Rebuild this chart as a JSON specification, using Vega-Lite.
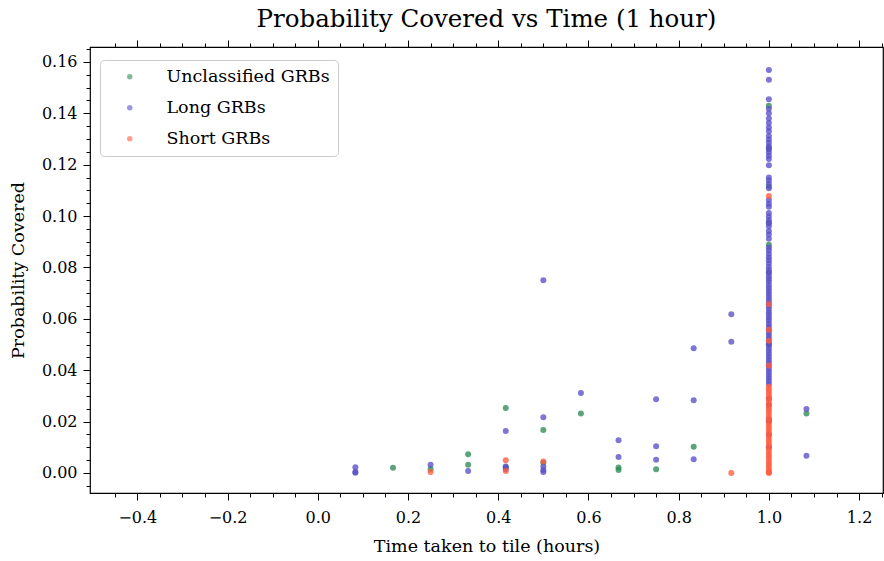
{
  "$schema": "https://vega.github.io/schema/vega-lite/v6.json",
  "width": 793,
  "height": 446,
  "autosize": "none",
  "padding": {"left": 90, "top": 47, "right": 1, "bottom": 68},
  "background": "white",
  "config": {
    "font": "DejaVu Serif",
    "view": {"stroke": "black", "strokeWidth": 1.2},
    "axis": {"grid": false, "domain": false, "tickColor": "black", "labelColor": "black", "titleColor": "black", "labelFont": "DejaVu Serif", "titleFont": "DejaVu Serif", "titleFontWeight": "normal"}
  },
  "title": {"text": "Probability Covered vs Time (1 hour)", "fontSize": 24.5, "fontWeight": "normal", "font": "DejaVu Serif", "color": "black", "offset": 7},
  "data": {"values": [
    {"t": 0.1667, "p": 0.0020, "type": "Unclassified GRBs"},
    {"t": 0.25, "p": 0.0015, "type": "Unclassified GRBs"},
    {"t": 0.3333, "p": 0.0073, "type": "Unclassified GRBs"},
    {"t": 0.3333, "p": 0.0032, "type": "Unclassified GRBs"},
    {"t": 0.4167, "p": 0.0253, "type": "Unclassified GRBs"},
    {"t": 0.4167, "p": 0.0022, "type": "Unclassified GRBs"},
    {"t": 0.5, "p": 0.0167, "type": "Unclassified GRBs"},
    {"t": 0.5, "p": 0.0040, "type": "Unclassified GRBs"},
    {"t": 0.5833, "p": 0.0231, "type": "Unclassified GRBs"},
    {"t": 0.6667, "p": 0.0021, "type": "Unclassified GRBs"},
    {"t": 0.6667, "p": 0.0012, "type": "Unclassified GRBs"},
    {"t": 0.75, "p": 0.0014, "type": "Unclassified GRBs"},
    {"t": 0.8333, "p": 0.0102, "type": "Unclassified GRBs"},
    {"t": 1.0833, "p": 0.0231, "type": "Unclassified GRBs"},
    {"t": 1.0, "p": 0.1429, "type": "Unclassified GRBs"},
    {"t": 1.0, "p": 0.1265, "type": "Unclassified GRBs"},
    {"t": 1.0, "p": 0.1115, "type": "Unclassified GRBs"},
    {"t": 1.0, "p": 0.0975, "type": "Unclassified GRBs"},
    {"t": 1.0, "p": 0.0888, "type": "Unclassified GRBs"},
    {"t": 1.0, "p": 0.0780, "type": "Unclassified GRBs"},
    {"t": 1.0, "p": 0.0500, "type": "Unclassified GRBs"},
    {"t": 1.0, "p": 0.0200, "type": "Unclassified GRBs"},
    {"t": 0.0833, "p": 0.0022, "type": "Long GRBs"},
    {"t": 0.0833, "p": 0.0004, "type": "Long GRBs"},
    {"t": 0.0833, "p": 0.0001, "type": "Long GRBs"},
    {"t": 0.25, "p": 0.0032, "type": "Long GRBs"},
    {"t": 0.3333, "p": 0.0008, "type": "Long GRBs"},
    {"t": 0.4167, "p": 0.0163, "type": "Long GRBs"},
    {"t": 0.4167, "p": 0.0025, "type": "Long GRBs"},
    {"t": 0.4167, "p": 0.0015, "type": "Long GRBs"},
    {"t": 0.5, "p": 0.0750, "type": "Long GRBs"},
    {"t": 0.5, "p": 0.0217, "type": "Long GRBs"},
    {"t": 0.5, "p": 0.0025, "type": "Long GRBs"},
    {"t": 0.5, "p": 0.0012, "type": "Long GRBs"},
    {"t": 0.5, "p": 0.0004, "type": "Long GRBs"},
    {"t": 0.5833, "p": 0.0311, "type": "Long GRBs"},
    {"t": 0.6667, "p": 0.0127, "type": "Long GRBs"},
    {"t": 0.6667, "p": 0.0062, "type": "Long GRBs"},
    {"t": 0.75, "p": 0.0287, "type": "Long GRBs"},
    {"t": 0.75, "p": 0.0104, "type": "Long GRBs"},
    {"t": 0.75, "p": 0.0051, "type": "Long GRBs"},
    {"t": 0.8333, "p": 0.0485, "type": "Long GRBs"},
    {"t": 0.8333, "p": 0.0283, "type": "Long GRBs"},
    {"t": 0.8333, "p": 0.0053, "type": "Long GRBs"},
    {"t": 0.9167, "p": 0.0618, "type": "Long GRBs"},
    {"t": 0.9167, "p": 0.0511, "type": "Long GRBs"},
    {"t": 1.0833, "p": 0.0249, "type": "Long GRBs"},
    {"t": 1.0833, "p": 0.0067, "type": "Long GRBs"},
    {"t": 1.0, "p": 0.1568, "type": "Long GRBs"},
    {"t": 1.0, "p": 0.1531, "type": "Long GRBs"},
    {"t": 1.0, "p": 0.1455, "type": "Long GRBs"},
    {"t": 1.0, "p": 0.1418, "type": "Long GRBs"},
    {"t": 1.0, "p": 0.1400, "type": "Long GRBs"},
    {"t": 1.0, "p": 0.1380, "type": "Long GRBs"},
    {"t": 1.0, "p": 0.1362, "type": "Long GRBs"},
    {"t": 1.0, "p": 0.1345, "type": "Long GRBs"},
    {"t": 1.0, "p": 0.1330, "type": "Long GRBs"},
    {"t": 1.0, "p": 0.1312, "type": "Long GRBs"},
    {"t": 1.0, "p": 0.1298, "type": "Long GRBs"},
    {"t": 1.0, "p": 0.1285, "type": "Long GRBs"},
    {"t": 1.0, "p": 0.1272, "type": "Long GRBs"},
    {"t": 1.0, "p": 0.1260, "type": "Long GRBs"},
    {"t": 1.0, "p": 0.1248, "type": "Long GRBs"},
    {"t": 1.0, "p": 0.1235, "type": "Long GRBs"},
    {"t": 1.0, "p": 0.1222, "type": "Long GRBs"},
    {"t": 1.0, "p": 0.1198, "type": "Long GRBs"},
    {"t": 1.0, "p": 0.1150, "type": "Long GRBs"},
    {"t": 1.0, "p": 0.1138, "type": "Long GRBs"},
    {"t": 1.0, "p": 0.1125, "type": "Long GRBs"},
    {"t": 1.0, "p": 0.1108, "type": "Long GRBs"},
    {"t": 1.0, "p": 0.1062, "type": "Long GRBs"},
    {"t": 1.0, "p": 0.1048, "type": "Long GRBs"},
    {"t": 1.0, "p": 0.1036, "type": "Long GRBs"},
    {"t": 1.0, "p": 0.1012, "type": "Long GRBs"},
    {"t": 1.0, "p": 0.0998, "type": "Long GRBs"},
    {"t": 1.0, "p": 0.0985, "type": "Long GRBs"},
    {"t": 1.0, "p": 0.0972, "type": "Long GRBs"},
    {"t": 1.0, "p": 0.0960, "type": "Long GRBs"},
    {"t": 1.0, "p": 0.0942, "type": "Long GRBs"},
    {"t": 1.0, "p": 0.0928, "type": "Long GRBs"},
    {"t": 1.0, "p": 0.0912, "type": "Long GRBs"},
    {"t": 1.0, "p": 0.0878, "type": "Long GRBs"},
    {"t": 1.0, "p": 0.0866, "type": "Long GRBs"},
    {"t": 1.0, "p": 0.0852, "type": "Long GRBs"},
    {"t": 1.0, "p": 0.0840, "type": "Long GRBs"},
    {"t": 1.0, "p": 0.0828, "type": "Long GRBs"},
    {"t": 1.0, "p": 0.0815, "type": "Long GRBs"},
    {"t": 1.0, "p": 0.0802, "type": "Long GRBs"},
    {"t": 1.0, "p": 0.0790, "type": "Long GRBs"},
    {"t": 1.0, "p": 0.0778, "type": "Long GRBs"},
    {"t": 1.0, "p": 0.0766, "type": "Long GRBs"},
    {"t": 1.0, "p": 0.0755, "type": "Long GRBs"},
    {"t": 1.0, "p": 0.0744, "type": "Long GRBs"},
    {"t": 1.0, "p": 0.0732, "type": "Long GRBs"},
    {"t": 1.0, "p": 0.0720, "type": "Long GRBs"},
    {"t": 1.0, "p": 0.0708, "type": "Long GRBs"},
    {"t": 1.0, "p": 0.0697, "type": "Long GRBs"},
    {"t": 1.0, "p": 0.0685, "type": "Long GRBs"},
    {"t": 1.0, "p": 0.0673, "type": "Long GRBs"},
    {"t": 1.0, "p": 0.0662, "type": "Long GRBs"},
    {"t": 1.0, "p": 0.0650, "type": "Long GRBs"},
    {"t": 1.0, "p": 0.0638, "type": "Long GRBs"},
    {"t": 1.0, "p": 0.0626, "type": "Long GRBs"},
    {"t": 1.0, "p": 0.0615, "type": "Long GRBs"},
    {"t": 1.0, "p": 0.0603, "type": "Long GRBs"},
    {"t": 1.0, "p": 0.0592, "type": "Long GRBs"},
    {"t": 1.0, "p": 0.0580, "type": "Long GRBs"},
    {"t": 1.0, "p": 0.0568, "type": "Long GRBs"},
    {"t": 1.0, "p": 0.0556, "type": "Long GRBs"},
    {"t": 1.0, "p": 0.0545, "type": "Long GRBs"},
    {"t": 1.0, "p": 0.0533, "type": "Long GRBs"},
    {"t": 1.0, "p": 0.0521, "type": "Long GRBs"},
    {"t": 1.0, "p": 0.0510, "type": "Long GRBs"},
    {"t": 1.0, "p": 0.0498, "type": "Long GRBs"},
    {"t": 1.0, "p": 0.0486, "type": "Long GRBs"},
    {"t": 1.0, "p": 0.0475, "type": "Long GRBs"},
    {"t": 1.0, "p": 0.0463, "type": "Long GRBs"},
    {"t": 1.0, "p": 0.0451, "type": "Long GRBs"},
    {"t": 1.0, "p": 0.0440, "type": "Long GRBs"},
    {"t": 1.0, "p": 0.0428, "type": "Long GRBs"},
    {"t": 1.0, "p": 0.0416, "type": "Long GRBs"},
    {"t": 1.0, "p": 0.0405, "type": "Long GRBs"},
    {"t": 1.0, "p": 0.0393, "type": "Long GRBs"},
    {"t": 1.0, "p": 0.0381, "type": "Long GRBs"},
    {"t": 1.0, "p": 0.0370, "type": "Long GRBs"},
    {"t": 1.0, "p": 0.0358, "type": "Long GRBs"},
    {"t": 1.0, "p": 0.0346, "type": "Long GRBs"},
    {"t": 1.0, "p": 0.0290, "type": "Long GRBs"},
    {"t": 1.0, "p": 0.0265, "type": "Long GRBs"},
    {"t": 1.0, "p": 0.0206, "type": "Long GRBs"},
    {"t": 1.0, "p": 0.0150, "type": "Long GRBs"},
    {"t": 1.0, "p": 0.0100, "type": "Long GRBs"},
    {"t": 0.25, "p": 0.0004, "type": "Short GRBs"},
    {"t": 0.4167, "p": 0.0049, "type": "Short GRBs"},
    {"t": 0.4167, "p": 0.0008, "type": "Short GRBs"},
    {"t": 0.5, "p": 0.0045, "type": "Short GRBs"},
    {"t": 0.9167, "p": 0.0000, "type": "Short GRBs"},
    {"t": 1.0, "p": 0.1078, "type": "Short GRBs"},
    {"t": 1.0, "p": 0.0657, "type": "Short GRBs"},
    {"t": 1.0, "p": 0.0557, "type": "Short GRBs"},
    {"t": 1.0, "p": 0.0515, "type": "Short GRBs"},
    {"t": 1.0, "p": 0.0418, "type": "Short GRBs"},
    {"t": 1.0, "p": 0.0336, "type": "Short GRBs"},
    {"t": 1.0, "p": 0.0325, "type": "Short GRBs"},
    {"t": 1.0, "p": 0.0314, "type": "Short GRBs"},
    {"t": 1.0, "p": 0.0302, "type": "Short GRBs"},
    {"t": 1.0, "p": 0.0291, "type": "Short GRBs"},
    {"t": 1.0, "p": 0.0280, "type": "Short GRBs"},
    {"t": 1.0, "p": 0.0268, "type": "Short GRBs"},
    {"t": 1.0, "p": 0.0257, "type": "Short GRBs"},
    {"t": 1.0, "p": 0.0246, "type": "Short GRBs"},
    {"t": 1.0, "p": 0.0235, "type": "Short GRBs"},
    {"t": 1.0, "p": 0.0223, "type": "Short GRBs"},
    {"t": 1.0, "p": 0.0212, "type": "Short GRBs"},
    {"t": 1.0, "p": 0.0201, "type": "Short GRBs"},
    {"t": 1.0, "p": 0.0190, "type": "Short GRBs"},
    {"t": 1.0, "p": 0.0178, "type": "Short GRBs"},
    {"t": 1.0, "p": 0.0167, "type": "Short GRBs"},
    {"t": 1.0, "p": 0.0156, "type": "Short GRBs"},
    {"t": 1.0, "p": 0.0145, "type": "Short GRBs"},
    {"t": 1.0, "p": 0.0133, "type": "Short GRBs"},
    {"t": 1.0, "p": 0.0122, "type": "Short GRBs"},
    {"t": 1.0, "p": 0.0111, "type": "Short GRBs"},
    {"t": 1.0, "p": 0.0100, "type": "Short GRBs"},
    {"t": 1.0, "p": 0.0088, "type": "Short GRBs"},
    {"t": 1.0, "p": 0.0077, "type": "Short GRBs"},
    {"t": 1.0, "p": 0.0066, "type": "Short GRBs"},
    {"t": 1.0, "p": 0.0055, "type": "Short GRBs"},
    {"t": 1.0, "p": 0.0044, "type": "Short GRBs"},
    {"t": 1.0, "p": 0.0033, "type": "Short GRBs"},
    {"t": 1.0, "p": 0.0022, "type": "Short GRBs"},
    {"t": 1.0, "p": 0.0011, "type": "Short GRBs"},
    {"t": 1.0, "p": 0.0003, "type": "Short GRBs"},
    {"t": 1.0, "p": 0.0000, "type": "Short GRBs"}
  ]},
  "layer": [
    {
      "mark": {"type": "point", "filled": true, "size": 36, "opacity": 0.78},
      "encoding": {
        "x": {"field": "t", "type": "quantitative", "scale": {"domain": [-0.505, 1.253], "nice": false, "zero": false},
          "axis": {"orient": "bottom", "values": [-0.4, -0.2, 0, 0.2, 0.4, 0.6, 0.8, 1.0, 1.2], "format": ".1f", "title": "Time taken to tile (hours)", "tickSize": 7, "labelFontSize": 16, "titleFontSize": 17.5, "labelPadding": 9, "titlePadding": 12}},
        "y": {"field": "p", "type": "quantitative", "scale": {"domain": [-0.0078, 0.1658], "nice": false, "zero": false},
          "axis": {"orient": "left", "values": [0, 0.02, 0.04, 0.06, 0.08, 0.1, 0.12, 0.14, 0.16], "format": ".2f", "title": "Probability Covered", "tickSize": 7, "labelFontSize": 16, "titleFontSize": 17.5, "labelPadding": 6, "titlePadding": 14}},
        "color": {"field": "type", "type": "nominal",
          "scale": {"domain": ["Unclassified GRBs", "Long GRBs", "Short GRBs"], "range": ["#2e8b57", "#5a50c8", "#ff5a3c"]},
          "legend": {"title": null, "orient": "none", "legendX": 10, "legendY": 13, "strokeColor": "#cccccc", "fillColor": "white", "cornerRadius": 4, "padding": 8, "symbolOffset": 13, "labelOffset": 28, "labelFontSize": 17.5, "labelLimit": 400, "labelFont": "DejaVu Serif", "labelColor": "black", "rowPadding": 12, "symbolType": "circle", "symbolSize": 30, "symbolOpacity": 0.6, "symbolStrokeWidth": 0}}
      }
    },
    {
      "mark": {"type": "point", "opacity": 0},
      "encoding": {
        "x": {"field": "t", "type": "quantitative", "axis": {"orient": "bottom", "values": [-0.45, -0.35, -0.3, -0.25, -0.15, -0.1, -0.05, 0.05, 0.1, 0.15, 0.25, 0.3, 0.35, 0.45, 0.5, 0.55, 0.65, 0.7, 0.75, 0.85, 0.9, 0.95, 1.05, 1.1, 1.15, 1.25], "labels": false, "tickSize": 4, "title": null}},
        "y": {"field": "p", "type": "quantitative", "axis": {"orient": "left", "values": [-0.005, 0.005, 0.01, 0.015, 0.025, 0.03, 0.035, 0.045, 0.05, 0.055, 0.065, 0.07, 0.075, 0.085, 0.09, 0.095, 0.105, 0.11, 0.115, 0.125, 0.13, 0.135, 0.145, 0.15, 0.155, 0.165], "labels": false, "tickSize": 4, "title": null}}
      }
    },
    {
      "mark": {"type": "point", "opacity": 0},
      "encoding": {
        "x": {"field": "t", "type": "quantitative", "axis": {"orient": "top", "values": [-0.4, -0.2, 0, 0.2, 0.4, 0.6, 0.8, 1.0, 1.2], "labels": false, "tickSize": 7, "title": null}},
        "y": {"field": "p", "type": "quantitative", "axis": null}
      }
    },
    {
      "mark": {"type": "point", "opacity": 0},
      "encoding": {
        "x": {"field": "t", "type": "quantitative", "axis": {"orient": "top", "values": [-0.45, -0.35, -0.3, -0.25, -0.15, -0.1, -0.05, 0.05, 0.1, 0.15, 0.25, 0.3, 0.35, 0.45, 0.5, 0.55, 0.65, 0.7, 0.75, 0.85, 0.9, 0.95, 1.05, 1.1, 1.15, 1.25], "labels": false, "tickSize": 4, "title": null}},
        "y": {"field": "p", "type": "quantitative", "axis": null}
      }
    }
  ],
  "resolve": {"axis": {"x": "independent", "y": "independent"}}
}
